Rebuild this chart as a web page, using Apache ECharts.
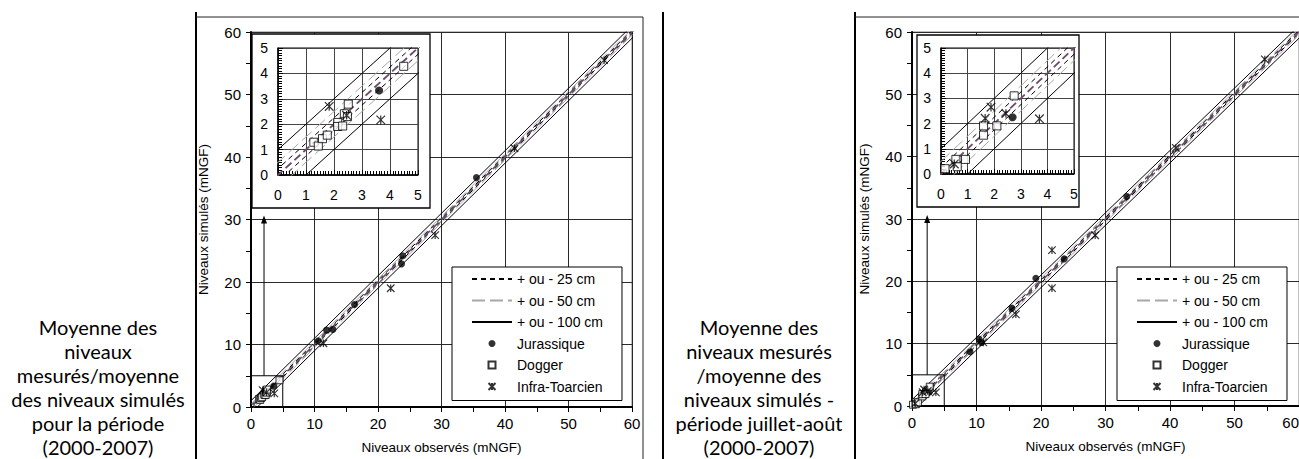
<!DOCTYPE html>
<html><head><meta charset="utf-8">
<script src="https://cdn.jsdelivr.net/npm/echarts@6/dist/echarts.min.js"></script>
<style>html,body{margin:0;padding:0;background:#fff;overflow:hidden}#c{width:1299px;height:459px}</style>
</head><body><div id="c"></div>
<script>
// ---- texts ----
const captionLeft = ['Moyenne des', 'niveaux', 'mesurés/moyenne', 'des niveaux simulés', 'pour la période', '(2000-2007)'];
const captionRight = ['Moyenne des', 'niveaux mesurés', '/moyenne des', 'niveaux simulés -', 'période juillet-août', '(2000-2007)'];
const xAxisTitle = 'Niveaux observés (mNGF)';
const yAxisTitle = 'Niveaux simulés (mNGF)';
const bandNames = ['+ ou - 25 cm', '+ ou - 50 cm', '+ ou - 100 cm'];
const aquiferNames = ['Jurassique', 'Dogger', 'Infra-Toarcien'];
// ---- values ----
const bandOffsets = [0.25, 0.5, 1.0];      // tolerance bands (m)
const mainRange = [0, 60];
const insetRange = [0, 5];
const zoomBox = [[0, 0], [5, 0], [5, 5], [0, 5], [0, 0]];
const arrowLeft = [[2.05, 5], [2.05, 30]];
const arrowRight = [[2.35, 5], [2.35, 30]];

const jurassiqueLeft = [[3.61, 3.33], [10.6, 10.6], [11.9, 12.3], [12.9, 12.4], [16.3, 16.4], [23.7, 22.9], [23.9, 24.2], [35.5, 36.7]];
const doggerLeft = [[1.28, 1.29], [1.44, 1.14], [1.59, 1.43], [1.76, 1.57], [2.13, 2.07], [2.13, 1.91], [2.31, 1.93], [2.37, 2.41], [2.48, 2.30], [2.51, 2.79], [4.49, 4.28]];
const infraLeft = [[1.83, 2.70], [2.45, 2.35], [3.67, 2.17], [11.4, 10.2], [22.0, 19.0], [29.0, 27.5], [41.5, 41.4], [55.6, 55.5]];

const jurassiqueRight = [[2.69, 2.25], [9.0, 8.7], [10.4, 10.75], [10.8, 10.2], [15.5, 15.7], [19.2, 20.5], [23.6, 23.6], [33.3, 33.6]];
const doggerRight = [[0.15, 0.21], [0.56, 0.58], [0.61, 0.29], [0.92, 0.58], [1.6, 1.54], [1.6, 1.91], [2.1, 1.91], [2.75, 3.1]];
const infraRight = [[0.5, 0.4], [1.66, 2.21], [1.88, 2.65], [2.44, 2.4], [3.7, 2.19], [11.05, 10.2], [16.1, 14.7], [21.7, 25.0], [21.7, 18.9], [28.4, 27.4], [40.9, 41.4], [54.7, 55.6]];

// ---- styles ----
const FONT = 'Liberation Sans, Arial, sans-serif';
const bandStyles = [
  { color: '#000', type: [5, 4], width: 1 },
  { color: '#a8a8a8', type: [13, 5], width: 1 },
  { color: '#000', type: 'solid', width: 1 }
];
const asteriskPath = 'path://M0,0L10,10M10,0L0,10M5,0L5,10';
const squarePath = 'path://M0,0L10,0L10,10L0,10Z';

const chart = echarts.init(document.getElementById('c'), null, { renderer: 'svg' });

const panels = [
  { main: { left: 251, top: 32, width: 381, height: 375 }, inset: { left: 278, top: 48, width: 140, height: 127 },
    frame: { x: 252, y: 34, width: 178, height: 174 }, legend: { left: 452, top: 267 },
    arrow: arrowLeft, data: [jurassiqueLeft, doggerLeft, infraLeft], alignMax: 'center' },
  { main: { left: 912, top: 32, width: 387, height: 374 }, inset: { left: 941, top: 48, width: 133, height: 126 },
    frame: { x: 917, y: 35, width: 162, height: 172 }, legend: { left: 1117, top: 267 },
    arrow: arrowRight, data: [jurassiqueRight, doggerRight, infraRight], alignMax: 'right' }
];

const grid = [], xAxis = [], yAxis = [], series = [], legend = [], graphic = [];

function mainAxis(gi, isX, alignMax) {
  return {
    type: 'value', gridIndex: gi, min: mainRange[0], max: mainRange[1], interval: 10,
    name: isX ? xAxisTitle : yAxisTitle, nameLocation: 'middle', nameGap: isX ? 33 : 41,
    nameTextStyle: { fontFamily: FONT, fontSize: 13.5, color: '#000' },
    axisLine: { show: true, onZero: false, lineStyle: { color: '#000', width: 2 } },
    axisTick: { show: true, length: 5, lineStyle: { color: '#000', width: 1 } },
    minorTick: { show: true, splitNumber: 2, length: 5, lineStyle: { color: '#000', width: 1 } },
    splitLine: { show: true, lineStyle: { color: '#2a2a2a', width: 1 } },
    axisLabel: Object.assign({ fontFamily: FONT, fontSize: 15, color: '#000', margin: isX ? 9 : 10 },
      isX ? { alignMaxLabel: alignMax } : {}),
    z: 1
  };
}
function insetAxis(gi, isX) {
  return {
    type: 'value', gridIndex: gi, min: insetRange[0], max: insetRange[1], interval: 1,
    axisLine: { show: true, onZero: false, lineStyle: { color: '#000', width: 1.5 } },
    axisTick: { show: true, inside: true, length: 5, lineStyle: { color: '#000', width: 1 } },
    minorTick: { show: true, splitNumber: 10, length: 4, lineStyle: { color: '#000', width: 1 } },
    splitLine: { show: true, lineStyle: { color: '#444', width: 1 } },
    axisLabel: { fontFamily: FONT, fontSize: 14, color: '#000', margin: isX ? 13 : 10 },
    z: 5
  };
}

panels.forEach((p, pi) => {
  const gMain = grid.length;
  grid.push(Object.assign({ show: true, borderColor: '#808080', borderWidth: 1, backgroundColor: 'transparent', z: 0, outerBoundsMode: 'none', containLabel: false }, p.main));
  xAxis.push(mainAxis(gMain, true, p.alignMax)); yAxis.push(mainAxis(gMain, false));
  const gIn = grid.length;
  grid.push(Object.assign({ show: true, borderColor: '#000', borderWidth: 1, backgroundColor: '#fff', z: 4, outerBoundsMode: 'none', containLabel: false }, p.inset));
  xAxis.push(insetAxis(gIn, true)); yAxis.push(insetAxis(gIn, false));

  [[gMain, 2, mainRange, 1], [gIn, 6, insetRange, 1.15]].forEach(([g, z, range, k]) => {
    const hi = range[1] + 1.5;
    // 1:1 line
    series.push({ type: 'line', name: 'y = x', xAxisIndex: g, yAxisIndex: g, z, symbol: 'none', showSymbol: false, silent: true,
      lineStyle: { color: '#6b4a6b', type: [8, 4], width: 1.6 * k }, data: [[-1, -1], [hi, hi]] });
    bandOffsets.forEach((off, bi) => {
      [off, -off].forEach(s => {
        series.push({ type: 'line', name: bandNames[bi], xAxisIndex: g, yAxisIndex: g, z, symbol: 'none', showSymbol: false, silent: true,
          itemStyle: { color: bandStyles[bi].color }, lineStyle: bandStyles[bi], data: [[-2, -2 + s], [hi, hi + s]] });
      });
    });
    series.push({ type: 'scatter', name: aquiferNames[0], xAxisIndex: g, yAxisIndex: g, z: z + 1, symbol: 'circle', symbolSize: 7 * k,
      itemStyle: { color: '#000' }, data: p.data[0], clip: true });
    series.push({ type: 'scatter', name: aquiferNames[1], xAxisIndex: g, yAxisIndex: g, z: z + 1, symbol: squarePath, symbolSize: 7 * k,
      itemStyle: { color: '#fff', borderColor: '#000', borderWidth: 1 }, data: p.data[1], clip: true });
    series.push({ type: 'scatter', name: aquiferNames[2], xAxisIndex: g, yAxisIndex: g, z: z + 1, symbol: asteriskPath, symbolSize: 7.5 * k,
      itemStyle: { color: 'none', borderColor: '#000', borderWidth: 1.2 }, data: p.data[2], clip: true });
  });
  // zoom box + arrow on the main plot
  series.push({ type: 'line', name: 'zoom', xAxisIndex: gMain, yAxisIndex: gMain, z: 3, symbol: 'none', silent: true,
    lineStyle: { color: '#000', width: 1 }, data: zoomBox });
  series.push({ type: 'line', name: 'arrow', xAxisIndex: gMain, yAxisIndex: gMain, z: 3, silent: true,
    lineStyle: { color: '#000', width: 1 },
    data: [{ value: p.arrow[0], symbol: 'none' }, { value: p.arrow[1], symbol: 'triangle', symbolSize: [6, 8], itemStyle: { color: '#000' } }] });

  const legendData = bandNames.map(n => ({ name: n, itemStyle: { opacity: 0 } }))
    .concat(aquiferNames.map(n => ({ name: n })));
  legend.push({ show: true, left: p.legend.left, top: p.legend.top, orient: 'vertical', selectedMode: false,
    data: legendData, itemWidth: 40, itemHeight: 7, itemGap: 5.5, symbolKeepAspect: true,
    padding: [4, 19, 6, 19], borderColor: '#000', borderWidth: 1, backgroundColor: '#fff', z: 8,
    textStyle: { fontFamily: FONT, fontSize: 14, color: '#000', lineHeight: 16 } });

  graphic.push({ type: 'rect', shape: p.frame, z: 3, style: { fill: '#fff', stroke: '#000', lineWidth: 1.3 } });
});

// page structure: separators and chart area borders
[196, 663, 855].forEach(x => graphic.push({ type: 'line', shape: { x1: x, y1: 12, x2: x, y2: 470 }, z: 10, style: { stroke: '#000', lineWidth: 2 } }));
graphic.push({ type: 'polyline', shape: { points: [[196, 17], [643, 17], [643, 470]] }, z: 10, style: { stroke: '#222', lineWidth: 1, fill: null } });
graphic.push({ type: 'polyline', shape: { points: [[855, 17], [1300, 17]] }, z: 10, style: { stroke: '#222', lineWidth: 1, fill: null } });

// captions
[[captionLeft, 98], [captionRight, 759]].forEach(([lines, cx]) => {
  lines.forEach((t, i) => graphic.push({ type: 'text', z: 10, x: cx, y: 327 + i * 24,
    style: { text: t, fill: '#000', font: '20px Lato, "Open Sans", sans-serif', textAlign: 'center', textVerticalAlign: 'middle' } }));
});

chart.setOption({ animation: false, grid, xAxis, yAxis, series, legend, graphic });
</script></body></html>
